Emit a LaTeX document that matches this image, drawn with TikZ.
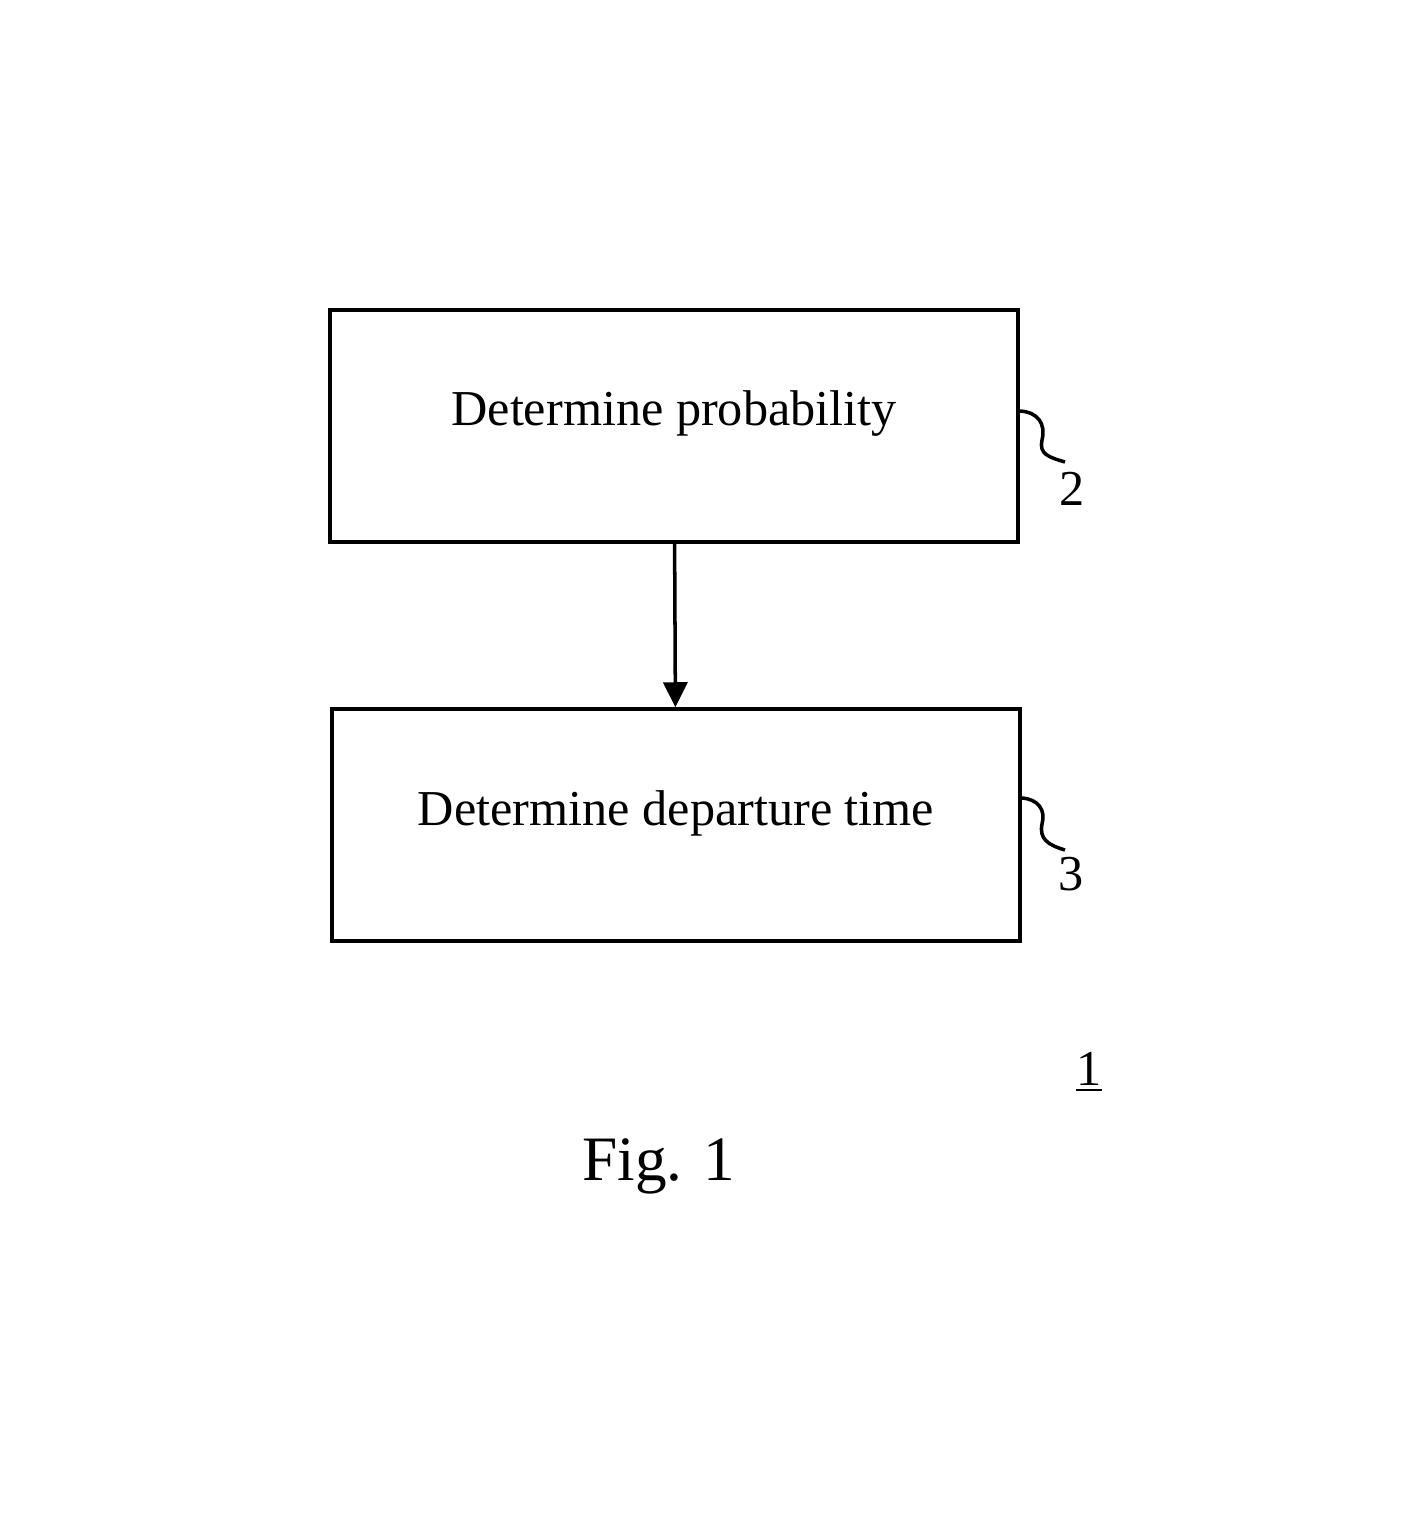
\documentclass[tikz,border=0pt]{standalone}
\usepackage{fontspec}
\setmainfont{Liberation Serif}
\usepackage{tikz}
\usetikzlibrary{arrows.meta, positioning, calc}

\begin{document}
\begin{tikzpicture}[
            stepbox/.style={draw, line width=1pt, minimum width=6.88cm, minimum height=2.32cm,
                inner sep=0pt, text height=0.4cm, text depth=0.4cm, font=\fontsize{14.3}{17}\selectfont},
            lead/.style={line width=1pt},
            refnum/.style={anchor=base, inner sep=0pt, font=\fontsize{14.3}{17}\selectfont}]
            \useasboundingbox (0,0) rectangle (14.06,-15.16);
            \node[stepbox] (P) at (6.74,-4.26) {Determine probability};
            \node[stepbox] (T) at (6.76,-8.25) {Determine departure time};
            \draw[lead, -{Triangle[length=0.25cm, width=0.24cm]}] (P) -- (T);
            \coordinate (e2) at (10.65,-4.62);
            \coordinate (e3) at (10.65,-8.50);
            \draw[lead] ([yshift=0.15cm]P.east) .. controls (10.38,-4.12) and (10.46,-4.24) .. (10.42,-4.40)
                .. controls (10.39,-4.54) and (10.48,-4.57) .. (e2);
            \draw[lead] ([yshift=0.27cm]T.east) .. controls (10.38,-7.99) and (10.46,-8.10) .. (10.42,-8.24)
                .. controls (10.39,-8.39) and (10.48,-8.45) .. (e3);
            \node[refnum] (n2) at (10.72,-5.05) {2};
            \node[refnum] (n3) at (10.71,-8.90) {3};
            \node[refnum] (n1) at (10.89,-10.85) {\underline{1}};
            \node[anchor=base, font=\fontsize{18}{22}\selectfont] (fig) at (6.59,-11.80) {Fig. 1};
        \end{tikzpicture}
\end{document}
